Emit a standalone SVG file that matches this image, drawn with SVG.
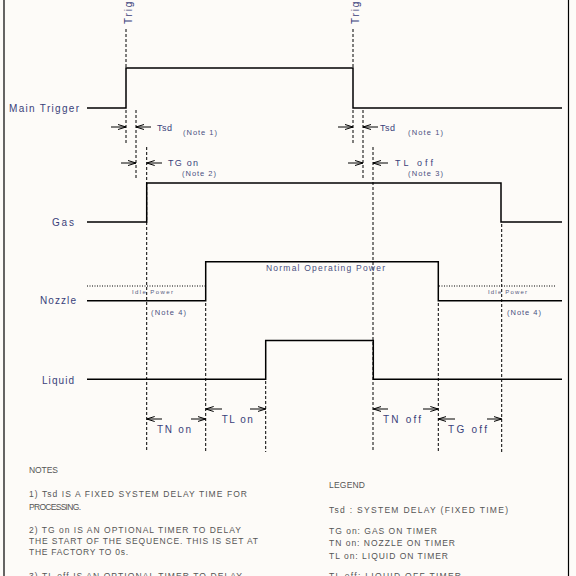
<svg xmlns="http://www.w3.org/2000/svg" width="576" height="576" viewBox="0 0 576 576">
<defs>
<marker id="ah" viewBox="0 0 8 6" refX="8" refY="3" markerWidth="8" markerHeight="6" markerUnits="userSpaceOnUse" orient="auto">
<path d="M0,0.5 L8,3 L0,5.5" fill="none" stroke="#000" stroke-width="1"/>
</marker>
</defs>
<style>
.sig{fill:none;stroke:#000;stroke-width:1.5}
.dash{fill:none;stroke:#000;stroke-width:1;stroke-dasharray:3,2}
.dot{fill:none;stroke:#000;stroke-width:1;stroke-dasharray:1,1.5}
.arr{fill:none;stroke:#000;stroke-width:1;marker-end:url(#ah)}
.lbl{font-family:"Liberation Sans",Arial,sans-serif;font-size:10px;fill:#3a3f7a}
.sm{font-family:"Liberation Sans",Arial,sans-serif;font-size:7.5px;fill:#4a4f80}
.tiny{font-family:"Liberation Sans",Arial,sans-serif;font-size:6px;fill:#555a80}
.note{font-family:"Liberation Sans",Arial,sans-serif;font-size:8.5px;fill:#555}
</style>
<rect width="576" height="576" fill="#fdfbf8"/>
<g id="frame">
<line x1="4" y1="0" x2="4" y2="576" stroke="#000" stroke-width="1.2"/>
<line x1="568.5" y1="0" x2="568.5" y2="576" stroke="#000" stroke-width="1.2"/>
</g>
<g id="guides">
<path class="dash" d="M126,29V68 M126,110V143 M136,110V178 M146.7,147V452 M205.7,303V452 M265.7,381V452 M353,29V68 M353,110V143 M363,110V178 M373,147V452 M438.3,303V452 M501.7,224V452"/>
</g>
<g id="main-trigger">
<text class="lbl" x="9" y="112" textLength="70" lengthAdjust="spacing">Main Trigger</text>
<polyline class="sig" points="87,108 126,108 126,68 353,68 353,108 562,108"/>
<text class="lbl" transform="translate(131.5,24) rotate(-90)" textLength="42" lengthAdjust="spacing">Trigger</text>
<text class="lbl" transform="translate(358.5,24) rotate(-90)" textLength="42" lengthAdjust="spacing">Trigger</text>
</g>
<g id="gas">
<text class="lbl" x="52" y="226" textLength="22" lengthAdjust="spacing">Gas</text>
<polyline class="sig" points="87,222 146.7,222 146.7,183 501,183 501,222 562,222"/>
</g>
<g id="nozzle">
<text class="lbl" x="40" y="304" textLength="36" lengthAdjust="spacing">Nozzle</text>
<polyline class="sig" points="87,300.7 205.7,300.7 205.7,261.7 438.3,261.7 438.3,300.7 562,300.7"/>
<path class="dot" d="M87,286H205 M439,286H555"/>
<text class="tiny" x="132" y="293.5" textLength="41" lengthAdjust="spacing">Idle Power</text>
<text class="tiny" x="488" y="293.5" textLength="39" lengthAdjust="spacing">Idle Power</text>
<text class="sm" x="151" y="314.5" textLength="35" lengthAdjust="spacing">(Note 4)</text>
<text class="sm" x="507" y="314.5" textLength="34" lengthAdjust="spacing">(Note 4)</text>
<text class="sm" x="266" y="271" textLength="119" lengthAdjust="spacing" style="font-size:8.5px">Normal Operating Power</text>
</g>
<g id="liquid">
<text class="lbl" x="42" y="383.5" textLength="32" lengthAdjust="spacing">Liquid</text>
<polyline class="sig" points="87,379.3 265.7,379.3 265.7,340.5 373.3,340.5 373.3,379.3 562,379.3"/>
</g>
<g id="connectors">
<line class="arr" x1="111" y1="127" x2="126" y2="127"/>
<line class="arr" x1="151" y1="127" x2="136" y2="127"/>
<line class="arr" x1="338" y1="127" x2="353" y2="127"/>
<line class="arr" x1="378" y1="127" x2="363" y2="127"/>
<line class="arr" x1="121" y1="163" x2="136" y2="163"/>
<line class="arr" x1="162" y1="163" x2="146.7" y2="163"/>
<line class="arr" x1="348" y1="163" x2="363" y2="163"/>
<line class="arr" x1="388" y1="163" x2="373" y2="163"/>
<line class="arr" x1="162" y1="419" x2="146.7" y2="419"/>
<line class="arr" x1="191" y1="419" x2="205.7" y2="419"/>
<line class="arr" x1="222" y1="409" x2="205.7" y2="409"/>
<line class="arr" x1="250" y1="409" x2="265.7" y2="409"/>
<line class="arr" x1="388" y1="409" x2="373.3" y2="409"/>
<line class="arr" x1="423" y1="409" x2="438.3" y2="409"/>
<line class="arr" x1="455" y1="419" x2="438.3" y2="419"/>
<line class="arr" x1="487" y1="419" x2="501.7" y2="419"/>
</g>
<g id="timing-labels">
<text class="lbl" x="157" y="131" textLength="15" lengthAdjust="spacing" style="font-size:9px">Tsd</text>
<text class="sm" x="183" y="134.5" textLength="34" lengthAdjust="spacing">(Note 1)</text>
<text class="lbl" x="380" y="131" textLength="15" lengthAdjust="spacing" style="font-size:9px">Tsd</text>
<text class="sm" x="408" y="134.5" textLength="35" lengthAdjust="spacing">(Note 1)</text>
<text class="lbl" x="168" y="166" textLength="30" lengthAdjust="spacing" style="font-size:9px">TG on</text>
<text class="sm" x="182" y="176" textLength="34" lengthAdjust="spacing">(Note 2)</text>
<text class="lbl" x="395" y="166" textLength="38" lengthAdjust="spacing" style="font-size:9px">TL off</text>
<text class="sm" x="408" y="176" textLength="35" lengthAdjust="spacing">(Note 3)</text>
<text class="lbl" x="157" y="433" textLength="34" lengthAdjust="spacing">TN on</text>
<text class="lbl" x="221.7" y="423" textLength="31" lengthAdjust="spacing">TL on</text>
<text class="lbl" x="383" y="423" textLength="38" lengthAdjust="spacing">TN off</text>
<text class="lbl" x="448" y="433" textLength="39" lengthAdjust="spacing">TG off</text>
</g>
<g id="notes">
<text class="note" x="29" y="473" textLength="29" lengthAdjust="spacing">NOTES</text>
<text class="note" x="29" y="496.5" textLength="218" lengthAdjust="spacing">1) Tsd IS A FIXED SYSTEM DELAY TIME FOR</text>
<text class="note" x="29" y="510" textLength="52" lengthAdjust="spacing">PROCESSING.</text>
<text class="note" x="29" y="532.5" textLength="212" lengthAdjust="spacing">2) TG on IS AN OPTIONAL TIMER TO DELAY</text>
<text class="note" x="29" y="543.5" textLength="229" lengthAdjust="spacing">THE START OF THE SEQUENCE. THIS IS SET AT</text>
<text class="note" x="29" y="555" textLength="99" lengthAdjust="spacing">THE FACTORY TO 0s.</text>
<text class="note" x="29" y="578.5" textLength="213" lengthAdjust="spacing">3) TL off IS AN OPTIONAL TIMER TO DELAY</text>
</g>
<g id="legend">
<text class="note" x="329" y="487.5" textLength="36" lengthAdjust="spacing">LEGEND</text>
<text class="note" x="329" y="513" textLength="179" lengthAdjust="spacing">Tsd : SYSTEM DELAY (FIXED TIME)</text>
<text class="note" x="329" y="534" textLength="108" lengthAdjust="spacing">TG on: GAS ON TIMER</text>
<text class="note" x="329" y="545.5" textLength="126" lengthAdjust="spacing">TN on: NOZZLE ON TIMER</text>
<text class="note" x="329" y="558.5" textLength="119" lengthAdjust="spacing">TL on: LIQUID ON TIMER</text>
<text class="note" x="329" y="579" textLength="132" lengthAdjust="spacing">TL off: LIQUID OFF TIMER</text>
</g>
</svg>
